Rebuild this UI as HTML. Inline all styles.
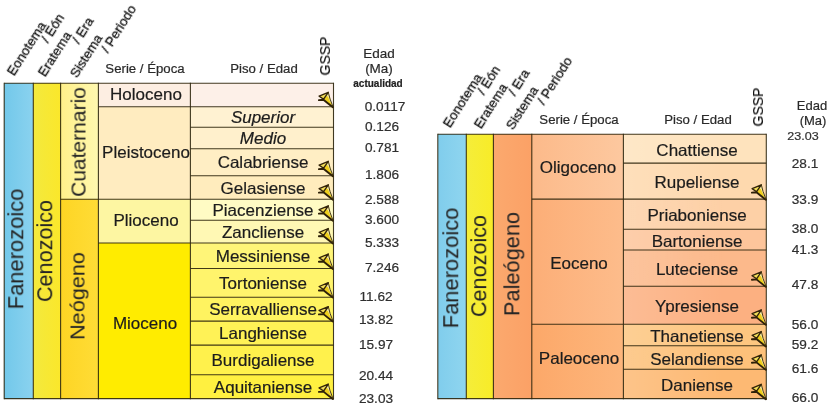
<!DOCTYPE html>
<html><head><meta charset="utf-8"><title>Cenozoico</title>
<style>
html,body{margin:0;padding:0;background:#fff;}
body{width:830px;height:406px;position:relative;overflow:hidden;font-family:"Liberation Sans",sans-serif;}
.c{position:absolute;}
.t{position:absolute;white-space:nowrap;line-height:1;will-change:transform;-webkit-text-stroke:0.2px currentColor;}
.ov{position:absolute;left:0;top:0;}
</style></head><body>
<div class="c" style="left:4.2px;top:83.3px;width:29.1px;height:315.3px;background:linear-gradient(90deg,#72c8ea,#8ad2ef)"></div>
<div class="c" style="left:33.3px;top:83.3px;width:27.3px;height:315.3px;background:linear-gradient(90deg,#f3e93e,#fbe72a)"></div>
<div class="c" style="left:60.6px;top:83.3px;width:37.8px;height:116.0px;background:linear-gradient(90deg,#fff08a,#fff8b0)"></div>
<div class="c" style="left:60.6px;top:199.3px;width:37.8px;height:199.3px;background:linear-gradient(90deg,#fdd524,#ffdc36)"></div>
<div class="c" style="left:98.4px;top:83.3px;width:92.0px;height:23.5px;background:#fdeee2"></div>
<div class="c" style="left:98.4px;top:106.8px;width:92.0px;height:92.5px;background:#ffecc0"></div>
<div class="c" style="left:98.4px;top:199.3px;width:92.0px;height:43.7px;background:#fdf6a2"></div>
<div class="c" style="left:98.4px;top:243.0px;width:92.0px;height:155.6px;background:#ffec00"></div>
<div class="c" style="left:190.4px;top:83.3px;width:143.1px;height:23.5px;background:#fdf0e8"></div>
<div class="c" style="left:190.4px;top:106.8px;width:143.1px;height:20.5px;background:#fff2d2"></div>
<div class="c" style="left:190.4px;top:127.3px;width:143.1px;height:21.4px;background:#fff0cc"></div>
<div class="c" style="left:190.4px;top:148.7px;width:143.1px;height:27.1px;background:#ffeec4"></div>
<div class="c" style="left:190.4px;top:175.8px;width:143.1px;height:23.5px;background:#ffecbd"></div>
<div class="c" style="left:190.4px;top:199.3px;width:143.1px;height:21.0px;background:#fffbc4"></div>
<div class="c" style="left:190.4px;top:220.3px;width:143.1px;height:22.7px;background:#fff8b4"></div>
<div class="c" style="left:190.4px;top:243.0px;width:143.1px;height:25.5px;background:#fff578"></div>
<div class="c" style="left:190.4px;top:268.5px;width:143.1px;height:28.7px;background:#fff46c"></div>
<div class="c" style="left:190.4px;top:297.2px;width:143.1px;height:23.9px;background:#fff360"></div>
<div class="c" style="left:190.4px;top:321.1px;width:143.1px;height:24.0px;background:#fff256"></div>
<div class="c" style="left:190.4px;top:345.1px;width:143.1px;height:29.7px;background:#fff14c"></div>
<div class="c" style="left:190.4px;top:374.8px;width:143.1px;height:23.8px;background:#fff040"></div>
<div class="t" style="left:17px;top:249.4px;font-size:21.5px;color:#242424;-webkit-text-stroke:0;transform:translate(-50%,-50%) rotate(-90deg) scale(1.02,1)">Fanerozoico</div>
<div class="t" style="left:45.5px;top:251.3px;font-size:21.5px;color:#242424;-webkit-text-stroke:0;transform:translate(-50%,-50%) rotate(-90deg) scale(1.005,1)">Cenozoico</div>
<div class="t" style="left:78px;top:141.5px;font-size:21px;color:#242424;-webkit-text-stroke:0;transform:translate(-50%,-50%) rotate(-90deg) scale(1.0,1)">Cuaternario</div>
<div class="t" style="left:77.4px;top:295.8px;font-size:21px;color:#242424;-webkit-text-stroke:0;transform:translate(-50%,-50%) rotate(-90deg) scale(1.03,1)">Ne&oacute;geno</div>
<div class="t" style="left:145.6px;top:93.7px;font-size:16.5px;color:#1c1c1c;transform:translate(-50%,-50%) scale(1.03,1)">Holoceno</div>
<div class="t" style="left:146px;top:151.6px;font-size:16.5px;color:#1c1c1c;transform:translate(-50%,-50%) scale(1.03,1)">Pleistoceno</div>
<div class="t" style="left:145.8px;top:220.2px;font-size:16.5px;color:#1c1c1c;transform:translate(-50%,-50%) scale(1.03,1)">Plioceno</div>
<div class="t" style="left:145.3px;top:323.2px;font-size:16.5px;color:#1c1c1c;transform:translate(-50%,-50%) scale(1.03,1)">Mioceno</div>
<div class="t" style="left:263px;top:117.2px;font-size:16.5px;color:#1c1c1c;font-style:italic;transform:translate(-50%,-50%) scale(1.03,1)">Superior</div>
<div class="t" style="left:263px;top:138.2px;font-size:16.5px;color:#1c1c1c;font-style:italic;transform:translate(-50%,-50%) scale(1.03,1)">Medio</div>
<div class="t" style="left:263px;top:162.4px;font-size:16.5px;color:#1c1c1c;transform:translate(-50%,-50%) scale(1.03,1)">Calabriense</div>
<div class="t" style="left:263px;top:187.8px;font-size:16.5px;color:#1c1c1c;transform:translate(-50%,-50%) scale(1.03,1)">Gelasiense</div>
<div class="t" style="left:263px;top:210.0px;font-size:16.5px;color:#1c1c1c;transform:translate(-50%,-50%) scale(1.03,1)">Piacenziense</div>
<div class="t" style="left:263px;top:231.8px;font-size:16.5px;color:#1c1c1c;transform:translate(-50%,-50%) scale(1.03,1)">Zancliense</div>
<div class="t" style="left:263px;top:255.9px;font-size:16.5px;color:#1c1c1c;transform:translate(-50%,-50%) scale(1.03,1)">Messiniense</div>
<div class="t" style="left:263px;top:283.1px;font-size:16.5px;color:#1c1c1c;transform:translate(-50%,-50%) scale(1.03,1)">Tortoniense</div>
<div class="t" style="left:263px;top:309.3px;font-size:16.5px;color:#1c1c1c;transform:translate(-50%,-50%) scale(1.03,1)">Serravalliense</div>
<div class="t" style="left:263px;top:333.3px;font-size:16.5px;color:#1c1c1c;transform:translate(-50%,-50%) scale(1.03,1)">Langhiense</div>
<div class="t" style="left:263px;top:360.2px;font-size:16.5px;color:#1c1c1c;transform:translate(-50%,-50%) scale(1.03,1)">Burdigaliense</div>
<div class="t" style="left:263px;top:386.9px;font-size:16.5px;color:#1c1c1c;transform:translate(-50%,-50%) scale(1.03,1)">Aquitaniense</div>
<div class="t" style="left:385px;top:107.3px;font-size:12.5px;color:#303030;transform:translate(-50%,-50%) scale(1.09,1)">0.0117</div>
<div class="t" style="left:382px;top:126.6px;font-size:12.5px;color:#303030;transform:translate(-50%,-50%) scale(1.09,1)">0.126</div>
<div class="t" style="left:382px;top:147.6px;font-size:12.5px;color:#303030;transform:translate(-50%,-50%) scale(1.09,1)">0.781</div>
<div class="t" style="left:382px;top:175px;font-size:12.5px;color:#303030;transform:translate(-50%,-50%) scale(1.09,1)">1.806</div>
<div class="t" style="left:382px;top:199.5px;font-size:12.5px;color:#303030;transform:translate(-50%,-50%) scale(1.09,1)">2.588</div>
<div class="t" style="left:382px;top:220px;font-size:12.5px;color:#303030;transform:translate(-50%,-50%) scale(1.09,1)">3.600</div>
<div class="t" style="left:382px;top:243px;font-size:12.5px;color:#303030;transform:translate(-50%,-50%) scale(1.09,1)">5.333</div>
<div class="t" style="left:382px;top:268px;font-size:12.5px;color:#303030;transform:translate(-50%,-50%) scale(1.09,1)">7.246</div>
<div class="t" style="left:376px;top:297px;font-size:12.5px;color:#303030;transform:translate(-50%,-50%) scale(1.09,1)">11.62</div>
<div class="t" style="left:376px;top:320px;font-size:12.5px;color:#303030;transform:translate(-50%,-50%) scale(1.09,1)">13.82</div>
<div class="t" style="left:376px;top:345px;font-size:12.5px;color:#303030;transform:translate(-50%,-50%) scale(1.09,1)">15.97</div>
<div class="t" style="left:376px;top:375.8px;font-size:12.5px;color:#303030;transform:translate(-50%,-50%) scale(1.09,1)">20.44</div>
<div class="t" style="left:376px;top:399.4px;font-size:12.5px;color:#303030;transform:translate(-50%,-50%) scale(1.09,1)">23.03</div>
<div class="t" style="left:145px;top:69px;font-size:12px;color:#2a2a2a;transform:translate(-50%,-50%) scale(1.1,1)">Serie / &Eacute;poca</div>
<div class="t" style="left:263.5px;top:68.6px;font-size:12px;color:#2a2a2a;transform:translate(-50%,-50%) scale(1.1,1)">Piso / Edad</div>
<div class="t" style="left:378.5px;top:54px;font-size:13.5px;color:#2a2a2a;transform:translate(-50%,-50%) scale(1.0,1)">Edad</div>
<div class="t" style="left:378.5px;top:68.5px;font-size:13.5px;color:#2a2a2a;transform:translate(-50%,-50%) scale(1.0,1)">(Ma)</div>
<div class="t" style="left:378px;top:84px;font-size:10px;color:#222;font-weight:bold;transform:translate(-50%,-50%) scale(1.0,1)">actualidad</div>
<div class="t" style="left:325px;top:55.5px;font-size:14px;color:#151515;transform:translate(-50%,-50%) rotate(-90deg)">GSSP</div>
<div class="t" style="left:16px;top:78px;font-size:13.5px;color:#151515;transform-origin:0 100%;-webkit-text-stroke:0.3px #151515;transform:translate(0,-100%) rotate(-57.5deg) scale(0.99,1)">Eonotema</div>
<div class="t" style="left:50px;top:45px;font-size:13.5px;color:#151515;transform-origin:0 100%;-webkit-text-stroke:0.3px #151515;transform:translate(0,-100%) rotate(-57.5deg) scale(0.99,1)">/ E&oacute;n</div>
<div class="t" style="left:47px;top:79px;font-size:13.5px;color:#151515;transform-origin:0 100%;-webkit-text-stroke:0.3px #151515;transform:translate(0,-100%) rotate(-57.5deg) scale(0.99,1)">Eratema</div>
<div class="t" style="left:81px;top:46px;font-size:13.5px;color:#151515;transform-origin:0 100%;-webkit-text-stroke:0.3px #151515;transform:translate(0,-100%) rotate(-57.5deg) scale(0.99,1)">/ Era</div>
<div class="t" style="left:79px;top:80px;font-size:13.5px;color:#151515;transform-origin:0 100%;-webkit-text-stroke:0.3px #151515;transform:translate(0,-100%) rotate(-57.5deg) scale(0.99,1)">Sistema</div>
<div class="t" style="left:110px;top:55px;font-size:13.5px;color:#151515;transform-origin:0 100%;-webkit-text-stroke:0.3px #151515;transform:translate(0,-100%) rotate(-57.5deg) scale(0.99,1)">/ Periodo</div>
<div class="c" style="left:437.8px;top:134.2px;width:28.5px;height:264.4px;background:linear-gradient(90deg,#80cdec,#8fd5ef)"></div>
<div class="c" style="left:466.3px;top:134.2px;width:27.1px;height:264.4px;background:linear-gradient(90deg,#f5ed3a,#f8ec28)"></div>
<div class="c" style="left:493.4px;top:134.2px;width:38.4px;height:264.4px;background:linear-gradient(90deg,#fba96e,#fba166)"></div>
<div class="c" style="left:531.8px;top:134.2px;width:91.6px;height:64.9px;background:linear-gradient(90deg,#fcba8a,#fdc89f)"></div>
<div class="c" style="left:531.8px;top:199.1px;width:91.6px;height:125.1px;background:linear-gradient(90deg,#fcae77,#fdbc8b)"></div>
<div class="c" style="left:531.8px;top:324.2px;width:91.6px;height:74.4px;background:linear-gradient(90deg,#fca869,#fdb67c)"></div>
<div class="c" style="left:623.4px;top:134.2px;width:142.9px;height:28.9px;background:linear-gradient(90deg,rgba(255,255,255,0.16),rgba(255,255,255,0) 70%),#fee3bd"></div>
<div class="c" style="left:623.4px;top:163.1px;width:142.9px;height:36.0px;background:linear-gradient(90deg,rgba(255,255,255,0.16),rgba(255,255,255,0) 70%),#fed9ae"></div>
<div class="c" style="left:623.4px;top:199.1px;width:142.9px;height:30.1px;background:linear-gradient(90deg,rgba(255,255,255,0.16),rgba(255,255,255,0) 70%),#fdd0a6"></div>
<div class="c" style="left:623.4px;top:229.2px;width:142.9px;height:20.8px;background:linear-gradient(90deg,rgba(255,255,255,0.16),rgba(255,255,255,0) 70%),#fdc59b"></div>
<div class="c" style="left:623.4px;top:250.0px;width:142.9px;height:36.2px;background:linear-gradient(90deg,rgba(255,255,255,0.16),rgba(255,255,255,0) 70%),#fcb98b"></div>
<div class="c" style="left:623.4px;top:286.2px;width:142.9px;height:38.0px;background:linear-gradient(90deg,rgba(255,255,255,0.16),rgba(255,255,255,0) 70%),#fcb081"></div>
<div class="c" style="left:623.4px;top:324.2px;width:142.9px;height:21.6px;background:linear-gradient(90deg,rgba(255,255,255,0.16),rgba(255,255,255,0) 70%),#fdc680"></div>
<div class="c" style="left:623.4px;top:345.8px;width:142.9px;height:23.4px;background:linear-gradient(90deg,rgba(255,255,255,0.16),rgba(255,255,255,0) 70%),#fdc17a"></div>
<div class="c" style="left:623.4px;top:369.2px;width:142.9px;height:29.4px;background:linear-gradient(90deg,rgba(255,255,255,0.16),rgba(255,255,255,0) 70%),#fdb973"></div>
<div class="t" style="left:451.9px;top:267.5px;font-size:21.5px;color:#242424;-webkit-text-stroke:0;transform:translate(-50%,-50%) rotate(-90deg) scale(1.02,1)">Fanerozoico</div>
<div class="t" style="left:479.8px;top:265.6px;font-size:21.5px;color:#242424;-webkit-text-stroke:0;transform:translate(-50%,-50%) rotate(-90deg) scale(1.005,1)">Cenozoico</div>
<div class="t" style="left:513.1px;top:264.3px;font-size:21.3px;color:#242424;-webkit-text-stroke:0;transform:translate(-50%,-50%) rotate(-90deg) scale(1.023,1)">Pale&oacute;geno</div>
<div class="t" style="left:578px;top:167px;font-size:16.5px;color:#1c1c1c;transform:translate(-50%,-50%) scale(1.03,1)">Oligoceno</div>
<div class="t" style="left:579px;top:263px;font-size:16.5px;color:#1c1c1c;transform:translate(-50%,-50%) scale(1.03,1)">Eoceno</div>
<div class="t" style="left:579px;top:357.5px;font-size:16.5px;color:#1c1c1c;transform:translate(-50%,-50%) scale(1.03,1)">Paleoceno</div>
<div class="t" style="left:696.7px;top:149.8px;font-size:16.5px;color:#1c1c1c;transform:translate(-50%,-50%) scale(1.03,1)">Chattiense</div>
<div class="t" style="left:696.7px;top:182.3px;font-size:16.5px;color:#1c1c1c;transform:translate(-50%,-50%) scale(1.03,1)">Rupeliense</div>
<div class="t" style="left:696.7px;top:215.3px;font-size:16.5px;color:#1c1c1c;transform:translate(-50%,-50%) scale(1.03,1)">Priaboniense</div>
<div class="t" style="left:696.7px;top:240.8px;font-size:16.5px;color:#1c1c1c;transform:translate(-50%,-50%) scale(1.03,1)">Bartoniense</div>
<div class="t" style="left:696.7px;top:269.3px;font-size:16.5px;color:#1c1c1c;transform:translate(-50%,-50%) scale(1.03,1)">Luteciense</div>
<div class="t" style="left:696.7px;top:306.4px;font-size:16.5px;color:#1c1c1c;transform:translate(-50%,-50%) scale(1.03,1)">Ypresiense</div>
<div class="t" style="left:696.7px;top:336.2px;font-size:16.5px;color:#1c1c1c;transform:translate(-50%,-50%) scale(1.03,1)">Thanetiense</div>
<div class="t" style="left:696.7px;top:358.7px;font-size:16.5px;color:#1c1c1c;transform:translate(-50%,-50%) scale(1.03,1)">Selandiense</div>
<div class="t" style="left:696.7px;top:385.1px;font-size:16.5px;color:#1c1c1c;transform:translate(-50%,-50%) scale(1.03,1)">Daniense</div>
<div class="t" style="left:803px;top:137px;font-size:11.5px;color:#303030;transform:translate(-50%,-50%) scale(1.09,1)">23.03</div>
<div class="t" style="left:804.7px;top:164px;font-size:12.5px;color:#303030;transform:translate(-50%,-50%) scale(1.09,1)">28.1</div>
<div class="t" style="left:804.7px;top:200px;font-size:12.5px;color:#303030;transform:translate(-50%,-50%) scale(1.09,1)">33.9</div>
<div class="t" style="left:804.7px;top:229px;font-size:12.5px;color:#303030;transform:translate(-50%,-50%) scale(1.09,1)">38.0</div>
<div class="t" style="left:804.7px;top:250px;font-size:12.5px;color:#303030;transform:translate(-50%,-50%) scale(1.09,1)">41.3</div>
<div class="t" style="left:804.7px;top:285px;font-size:12.5px;color:#303030;transform:translate(-50%,-50%) scale(1.09,1)">47.8</div>
<div class="t" style="left:804.7px;top:325px;font-size:12.5px;color:#303030;transform:translate(-50%,-50%) scale(1.09,1)">56.0</div>
<div class="t" style="left:804.7px;top:345px;font-size:12.5px;color:#303030;transform:translate(-50%,-50%) scale(1.09,1)">59.2</div>
<div class="t" style="left:804.7px;top:369px;font-size:12.5px;color:#303030;transform:translate(-50%,-50%) scale(1.09,1)">61.6</div>
<div class="t" style="left:804.7px;top:398px;font-size:12.5px;color:#303030;transform:translate(-50%,-50%) scale(1.09,1)">66.0</div>
<div class="t" style="left:579px;top:120px;font-size:12px;color:#2a2a2a;transform:translate(-50%,-50%) scale(1.1,1)">Serie / &Eacute;poca</div>
<div class="t" style="left:697.8px;top:120px;font-size:12px;color:#2a2a2a;transform:translate(-50%,-50%) scale(1.1,1)">Piso / Edad</div>
<div class="t" style="left:812px;top:105px;font-size:13px;color:#2a2a2a;transform:translate(-50%,-50%) scale(1.0,1)">Edad</div>
<div class="t" style="left:813px;top:119.5px;font-size:13px;color:#2a2a2a;transform:translate(-50%,-50%) scale(1.0,1)">(Ma)</div>
<div class="t" style="left:758px;top:106.5px;font-size:14px;color:#151515;transform:translate(-50%,-50%) rotate(-90deg)">GSSP</div>
<div class="t" style="left:451.5px;top:129.5px;font-size:13.5px;color:#151515;transform-origin:0 100%;-webkit-text-stroke:0.3px #151515;transform:translate(0,-100%) rotate(-57.5deg) scale(0.99,1)">Eonotema</div>
<div class="t" style="left:485.5px;top:96.5px;font-size:13.5px;color:#151515;transform-origin:0 100%;-webkit-text-stroke:0.3px #151515;transform:translate(0,-100%) rotate(-57.5deg) scale(0.99,1)">/ E&oacute;n</div>
<div class="t" style="left:482.5px;top:130.5px;font-size:13.5px;color:#151515;transform-origin:0 100%;-webkit-text-stroke:0.3px #151515;transform:translate(0,-100%) rotate(-57.5deg) scale(0.99,1)">Eratema</div>
<div class="t" style="left:516.5px;top:97.5px;font-size:13.5px;color:#151515;transform-origin:0 100%;-webkit-text-stroke:0.3px #151515;transform:translate(0,-100%) rotate(-57.5deg) scale(0.99,1)">/ Era</div>
<div class="t" style="left:514.5px;top:131.5px;font-size:13.5px;color:#151515;transform-origin:0 100%;-webkit-text-stroke:0.3px #151515;transform:translate(0,-100%) rotate(-57.5deg) scale(0.99,1)">Sistema</div>
<div class="t" style="left:545.5px;top:106.5px;font-size:13.5px;color:#151515;transform-origin:0 100%;-webkit-text-stroke:0.3px #151515;transform:translate(0,-100%) rotate(-57.5deg) scale(0.99,1)">/ Periodo</div>
<svg class="ov" width="830" height="406" viewBox="0 0 830 406"><g stroke="#30280f" stroke-width="1.1" stroke-linecap="butt" stroke-opacity="0.92"><line x1="4.2" y1="82.75" x2="4.2" y2="399.15000000000003"/><line x1="33.3" y1="82.75" x2="33.3" y2="399.15000000000003"/><line x1="60.6" y1="82.75" x2="60.6" y2="399.15000000000003"/><line x1="98.4" y1="82.75" x2="98.4" y2="399.15000000000003"/><line x1="190.4" y1="82.75" x2="190.4" y2="399.15000000000003"/><line x1="333.5" y1="82.75" x2="333.5" y2="399.15000000000003"/><line x1="4.2" y1="83.3" x2="333.5" y2="83.3"/><line x1="4.2" y1="398.6" x2="333.5" y2="398.6"/><line x1="60.6" y1="199.3" x2="333.5" y2="199.3"/><line x1="98.4" y1="106.8" x2="333.5" y2="106.8"/><line x1="98.4" y1="243.0" x2="333.5" y2="243.0"/><line x1="190.4" y1="127.3" x2="333.5" y2="127.3"/><line x1="190.4" y1="148.7" x2="333.5" y2="148.7"/><line x1="190.4" y1="175.8" x2="333.5" y2="175.8"/><line x1="190.4" y1="220.3" x2="333.5" y2="220.3"/><line x1="190.4" y1="268.5" x2="333.5" y2="268.5"/><line x1="190.4" y1="297.2" x2="333.5" y2="297.2"/><line x1="190.4" y1="321.1" x2="333.5" y2="321.1"/><line x1="190.4" y1="345.1" x2="333.5" y2="345.1"/><line x1="190.4" y1="374.8" x2="333.5" y2="374.8"/><line x1="437.8" y1="133.64999999999998" x2="437.8" y2="399.15000000000003"/><line x1="466.3" y1="133.64999999999998" x2="466.3" y2="399.15000000000003"/><line x1="493.4" y1="133.64999999999998" x2="493.4" y2="399.15000000000003"/><line x1="531.8" y1="133.64999999999998" x2="531.8" y2="399.15000000000003"/><line x1="623.4" y1="133.64999999999998" x2="623.4" y2="399.15000000000003"/><line x1="766.3" y1="133.64999999999998" x2="766.3" y2="399.15000000000003"/><line x1="437.8" y1="134.2" x2="766.3" y2="134.2"/><line x1="437.8" y1="398.6" x2="766.3" y2="398.6"/><line x1="531.8" y1="199.1" x2="766.3" y2="199.1"/><line x1="531.8" y1="324.2" x2="766.3" y2="324.2"/><line x1="623.4" y1="163.1" x2="766.3" y2="163.1"/><line x1="623.4" y1="229.2" x2="766.3" y2="229.2"/><line x1="623.4" y1="250.0" x2="766.3" y2="250.0"/><line x1="623.4" y1="286.2" x2="766.3" y2="286.2"/><line x1="623.4" y1="345.8" x2="766.3" y2="345.8"/><line x1="623.4" y1="369.2" x2="766.3" y2="369.2"/></g><g transform="translate(333.1,107.1)"><path d="M-4.8,-14.8 L-9.4,-8 Q-6,-4.6 0,0 Z" fill="#f6eca6"/><path d="M-7.2,-11 L-9.4,-8 Q-6,-4.6 0,0 Q-3.4,-5.5 -5.2,-10.5 Z" fill="#efcf1c"/><path d="M-4.8,-14.8 L-14,-11 L-9.5,-7.9 Z" fill="#f3de58" stroke="#33240a" stroke-width="1.35" stroke-linejoin="round"/><path d="M-14.2,-7 L-9.6,-7.3 Q-6.2,-4.4 -0.2,0.1" fill="none" stroke="#2e2008" stroke-width="1.9" stroke-linecap="round" stroke-linejoin="round"/><path d="M-4.8,-14.8 L-3,-8 L0,0" fill="none" stroke="#3e300c" stroke-width="0.95" stroke-linecap="round"/></g><g transform="translate(333.1,176.1)"><path d="M-4.8,-14.8 L-9.4,-8 Q-6,-4.6 0,0 Z" fill="#f6eca6"/><path d="M-7.2,-11 L-9.4,-8 Q-6,-4.6 0,0 Q-3.4,-5.5 -5.2,-10.5 Z" fill="#efcf1c"/><path d="M-4.8,-14.8 L-14,-11 L-9.5,-7.9 Z" fill="#f3de58" stroke="#33240a" stroke-width="1.35" stroke-linejoin="round"/><path d="M-14.2,-7 L-9.6,-7.3 Q-6.2,-4.4 -0.2,0.1" fill="none" stroke="#2e2008" stroke-width="1.9" stroke-linecap="round" stroke-linejoin="round"/><path d="M-4.8,-14.8 L-3,-8 L0,0" fill="none" stroke="#3e300c" stroke-width="0.95" stroke-linecap="round"/></g><g transform="translate(333.1,199.6)"><path d="M-4.8,-14.8 L-9.4,-8 Q-6,-4.6 0,0 Z" fill="#f6eca6"/><path d="M-7.2,-11 L-9.4,-8 Q-6,-4.6 0,0 Q-3.4,-5.5 -5.2,-10.5 Z" fill="#efcf1c"/><path d="M-4.8,-14.8 L-14,-11 L-9.5,-7.9 Z" fill="#f3de58" stroke="#33240a" stroke-width="1.35" stroke-linejoin="round"/><path d="M-14.2,-7 L-9.6,-7.3 Q-6.2,-4.4 -0.2,0.1" fill="none" stroke="#2e2008" stroke-width="1.9" stroke-linecap="round" stroke-linejoin="round"/><path d="M-4.8,-14.8 L-3,-8 L0,0" fill="none" stroke="#3e300c" stroke-width="0.95" stroke-linecap="round"/></g><g transform="translate(333.1,220.6)"><path d="M-4.8,-14.8 L-9.4,-8 Q-6,-4.6 0,0 Z" fill="#f6eca6"/><path d="M-7.2,-11 L-9.4,-8 Q-6,-4.6 0,0 Q-3.4,-5.5 -5.2,-10.5 Z" fill="#efcf1c"/><path d="M-4.8,-14.8 L-14,-11 L-9.5,-7.9 Z" fill="#f3de58" stroke="#33240a" stroke-width="1.35" stroke-linejoin="round"/><path d="M-14.2,-7 L-9.6,-7.3 Q-6.2,-4.4 -0.2,0.1" fill="none" stroke="#2e2008" stroke-width="1.9" stroke-linecap="round" stroke-linejoin="round"/><path d="M-4.8,-14.8 L-3,-8 L0,0" fill="none" stroke="#3e300c" stroke-width="0.95" stroke-linecap="round"/></g><g transform="translate(333.1,243.3)"><path d="M-4.8,-14.8 L-9.4,-8 Q-6,-4.6 0,0 Z" fill="#f6eca6"/><path d="M-7.2,-11 L-9.4,-8 Q-6,-4.6 0,0 Q-3.4,-5.5 -5.2,-10.5 Z" fill="#efcf1c"/><path d="M-4.8,-14.8 L-14,-11 L-9.5,-7.9 Z" fill="#f3de58" stroke="#33240a" stroke-width="1.35" stroke-linejoin="round"/><path d="M-14.2,-7 L-9.6,-7.3 Q-6.2,-4.4 -0.2,0.1" fill="none" stroke="#2e2008" stroke-width="1.9" stroke-linecap="round" stroke-linejoin="round"/><path d="M-4.8,-14.8 L-3,-8 L0,0" fill="none" stroke="#3e300c" stroke-width="0.95" stroke-linecap="round"/></g><g transform="translate(333.1,268.8)"><path d="M-4.8,-14.8 L-9.4,-8 Q-6,-4.6 0,0 Z" fill="#f6eca6"/><path d="M-7.2,-11 L-9.4,-8 Q-6,-4.6 0,0 Q-3.4,-5.5 -5.2,-10.5 Z" fill="#efcf1c"/><path d="M-4.8,-14.8 L-14,-11 L-9.5,-7.9 Z" fill="#f3de58" stroke="#33240a" stroke-width="1.35" stroke-linejoin="round"/><path d="M-14.2,-7 L-9.6,-7.3 Q-6.2,-4.4 -0.2,0.1" fill="none" stroke="#2e2008" stroke-width="1.9" stroke-linecap="round" stroke-linejoin="round"/><path d="M-4.8,-14.8 L-3,-8 L0,0" fill="none" stroke="#3e300c" stroke-width="0.95" stroke-linecap="round"/></g><g transform="translate(333.1,297.5)"><path d="M-4.8,-14.8 L-9.4,-8 Q-6,-4.6 0,0 Z" fill="#f6eca6"/><path d="M-7.2,-11 L-9.4,-8 Q-6,-4.6 0,0 Q-3.4,-5.5 -5.2,-10.5 Z" fill="#efcf1c"/><path d="M-4.8,-14.8 L-14,-11 L-9.5,-7.9 Z" fill="#f3de58" stroke="#33240a" stroke-width="1.35" stroke-linejoin="round"/><path d="M-14.2,-7 L-9.6,-7.3 Q-6.2,-4.4 -0.2,0.1" fill="none" stroke="#2e2008" stroke-width="1.9" stroke-linecap="round" stroke-linejoin="round"/><path d="M-4.8,-14.8 L-3,-8 L0,0" fill="none" stroke="#3e300c" stroke-width="0.95" stroke-linecap="round"/></g><g transform="translate(333.1,321.4)"><path d="M-4.8,-14.8 L-9.4,-8 Q-6,-4.6 0,0 Z" fill="#f6eca6"/><path d="M-7.2,-11 L-9.4,-8 Q-6,-4.6 0,0 Q-3.4,-5.5 -5.2,-10.5 Z" fill="#efcf1c"/><path d="M-4.8,-14.8 L-14,-11 L-9.5,-7.9 Z" fill="#f3de58" stroke="#33240a" stroke-width="1.35" stroke-linejoin="round"/><path d="M-14.2,-7 L-9.6,-7.3 Q-6.2,-4.4 -0.2,0.1" fill="none" stroke="#2e2008" stroke-width="1.9" stroke-linecap="round" stroke-linejoin="round"/><path d="M-4.8,-14.8 L-3,-8 L0,0" fill="none" stroke="#3e300c" stroke-width="0.95" stroke-linecap="round"/></g><g transform="translate(333.1,398.9)"><path d="M-4.8,-14.8 L-9.4,-8 Q-6,-4.6 0,0 Z" fill="#f6eca6"/><path d="M-7.2,-11 L-9.4,-8 Q-6,-4.6 0,0 Q-3.4,-5.5 -5.2,-10.5 Z" fill="#efcf1c"/><path d="M-4.8,-14.8 L-14,-11 L-9.5,-7.9 Z" fill="#f3de58" stroke="#33240a" stroke-width="1.35" stroke-linejoin="round"/><path d="M-14.2,-7 L-9.6,-7.3 Q-6.2,-4.4 -0.2,0.1" fill="none" stroke="#2e2008" stroke-width="1.9" stroke-linecap="round" stroke-linejoin="round"/><path d="M-4.8,-14.8 L-3,-8 L0,0" fill="none" stroke="#3e300c" stroke-width="0.95" stroke-linecap="round"/></g><g transform="translate(766.1,199.6)"><path d="M-4.8,-14.8 L-9.4,-8 Q-6,-4.6 0,0 Z" fill="#f6eca6"/><path d="M-7.2,-11 L-9.4,-8 Q-6,-4.6 0,0 Q-3.4,-5.5 -5.2,-10.5 Z" fill="#efcf1c"/><path d="M-4.8,-14.8 L-14,-11 L-9.5,-7.9 Z" fill="#f3de58" stroke="#33240a" stroke-width="1.35" stroke-linejoin="round"/><path d="M-14.2,-7 L-9.6,-7.3 Q-6.2,-4.4 -0.2,0.1" fill="none" stroke="#2e2008" stroke-width="1.9" stroke-linecap="round" stroke-linejoin="round"/><path d="M-4.8,-14.8 L-3,-8 L0,0" fill="none" stroke="#3e300c" stroke-width="0.95" stroke-linecap="round"/></g><g transform="translate(766.1,286.7)"><path d="M-4.8,-14.8 L-9.4,-8 Q-6,-4.6 0,0 Z" fill="#f6eca6"/><path d="M-7.2,-11 L-9.4,-8 Q-6,-4.6 0,0 Q-3.4,-5.5 -5.2,-10.5 Z" fill="#efcf1c"/><path d="M-4.8,-14.8 L-14,-11 L-9.5,-7.9 Z" fill="#f3de58" stroke="#33240a" stroke-width="1.35" stroke-linejoin="round"/><path d="M-14.2,-7 L-9.6,-7.3 Q-6.2,-4.4 -0.2,0.1" fill="none" stroke="#2e2008" stroke-width="1.9" stroke-linecap="round" stroke-linejoin="round"/><path d="M-4.8,-14.8 L-3,-8 L0,0" fill="none" stroke="#3e300c" stroke-width="0.95" stroke-linecap="round"/></g><g transform="translate(766.1,324.7)"><path d="M-4.8,-14.8 L-9.4,-8 Q-6,-4.6 0,0 Z" fill="#f6eca6"/><path d="M-7.2,-11 L-9.4,-8 Q-6,-4.6 0,0 Q-3.4,-5.5 -5.2,-10.5 Z" fill="#efcf1c"/><path d="M-4.8,-14.8 L-14,-11 L-9.5,-7.9 Z" fill="#f3de58" stroke="#33240a" stroke-width="1.35" stroke-linejoin="round"/><path d="M-14.2,-7 L-9.6,-7.3 Q-6.2,-4.4 -0.2,0.1" fill="none" stroke="#2e2008" stroke-width="1.9" stroke-linecap="round" stroke-linejoin="round"/><path d="M-4.8,-14.8 L-3,-8 L0,0" fill="none" stroke="#3e300c" stroke-width="0.95" stroke-linecap="round"/></g><g transform="translate(766.1,346.3)"><path d="M-4.8,-14.8 L-9.4,-8 Q-6,-4.6 0,0 Z" fill="#f6eca6"/><path d="M-7.2,-11 L-9.4,-8 Q-6,-4.6 0,0 Q-3.4,-5.5 -5.2,-10.5 Z" fill="#efcf1c"/><path d="M-4.8,-14.8 L-14,-11 L-9.5,-7.9 Z" fill="#f3de58" stroke="#33240a" stroke-width="1.35" stroke-linejoin="round"/><path d="M-14.2,-7 L-9.6,-7.3 Q-6.2,-4.4 -0.2,0.1" fill="none" stroke="#2e2008" stroke-width="1.9" stroke-linecap="round" stroke-linejoin="round"/><path d="M-4.8,-14.8 L-3,-8 L0,0" fill="none" stroke="#3e300c" stroke-width="0.95" stroke-linecap="round"/></g><g transform="translate(766.1,369.7)"><path d="M-4.8,-14.8 L-9.4,-8 Q-6,-4.6 0,0 Z" fill="#f6eca6"/><path d="M-7.2,-11 L-9.4,-8 Q-6,-4.6 0,0 Q-3.4,-5.5 -5.2,-10.5 Z" fill="#efcf1c"/><path d="M-4.8,-14.8 L-14,-11 L-9.5,-7.9 Z" fill="#f3de58" stroke="#33240a" stroke-width="1.35" stroke-linejoin="round"/><path d="M-14.2,-7 L-9.6,-7.3 Q-6.2,-4.4 -0.2,0.1" fill="none" stroke="#2e2008" stroke-width="1.9" stroke-linecap="round" stroke-linejoin="round"/><path d="M-4.8,-14.8 L-3,-8 L0,0" fill="none" stroke="#3e300c" stroke-width="0.95" stroke-linecap="round"/></g><g transform="translate(766.1,399.1)"><path d="M-4.8,-14.8 L-9.4,-8 Q-6,-4.6 0,0 Z" fill="#f6eca6"/><path d="M-7.2,-11 L-9.4,-8 Q-6,-4.6 0,0 Q-3.4,-5.5 -5.2,-10.5 Z" fill="#efcf1c"/><path d="M-4.8,-14.8 L-14,-11 L-9.5,-7.9 Z" fill="#f3de58" stroke="#33240a" stroke-width="1.35" stroke-linejoin="round"/><path d="M-14.2,-7 L-9.6,-7.3 Q-6.2,-4.4 -0.2,0.1" fill="none" stroke="#2e2008" stroke-width="1.9" stroke-linecap="round" stroke-linejoin="round"/><path d="M-4.8,-14.8 L-3,-8 L0,0" fill="none" stroke="#3e300c" stroke-width="0.95" stroke-linecap="round"/></g></svg>
</body></html>
